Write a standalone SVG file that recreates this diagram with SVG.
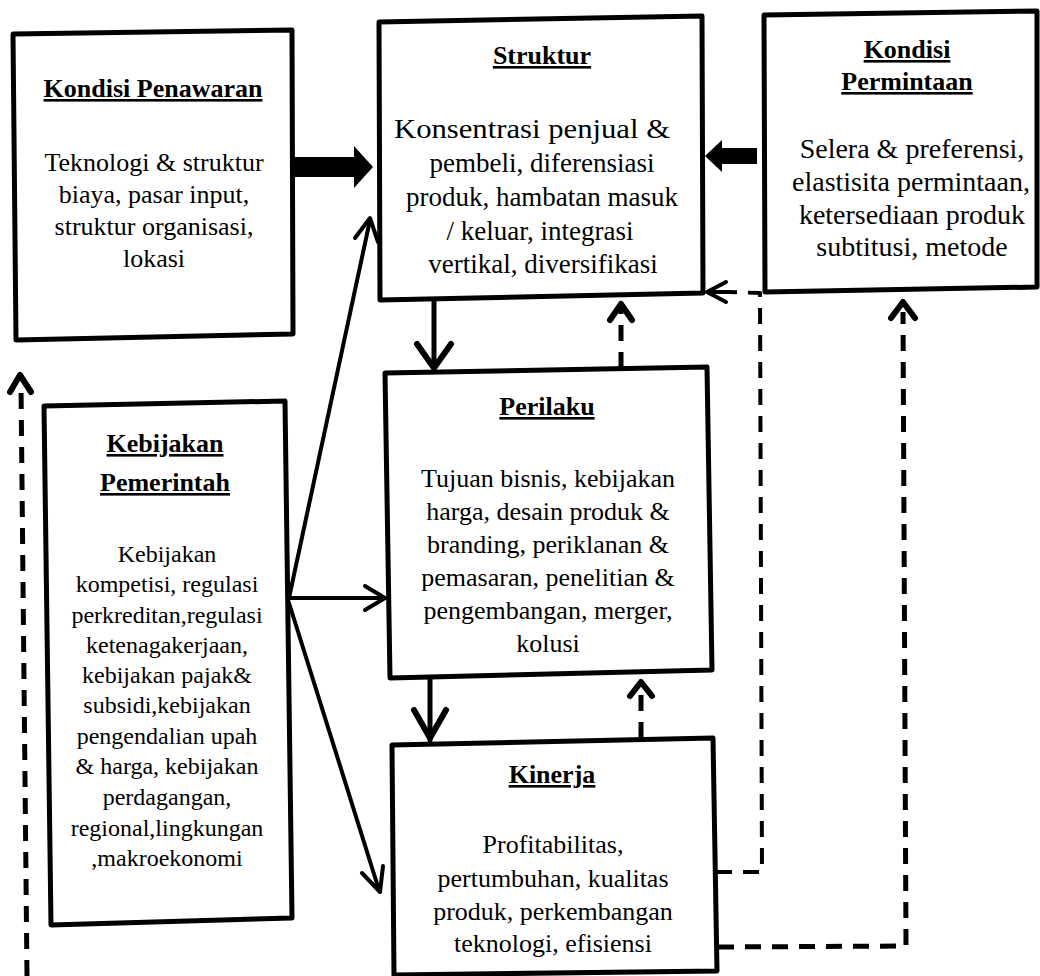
<svg xmlns="http://www.w3.org/2000/svg" width="1040" height="976" viewBox="0 0 1040 976">
<style>
.box{fill:#fff;stroke:#000;stroke-width:5;stroke-linejoin:round}
.t{font-family:"Liberation Serif","Times New Roman",serif;font-weight:bold;font-size:26px;text-anchor:middle;text-decoration:underline;fill:#000}
.b{font-family:"Liberation Serif","Times New Roman",serif;font-size:26px;text-anchor:middle;fill:#000}
.s{font-size:24px}
.m{font-size:27px}
.l{font-size:28px}
.ln{fill:none;stroke:#000;stroke-width:4;stroke-linecap:round;stroke-linejoin:round}
.thk{stroke-width:5}
.ds{fill:none;stroke:#000;stroke-width:5;stroke-dasharray:16 11;stroke-linejoin:round}
.dsn{fill:none;stroke:#000;stroke-width:4;stroke-dasharray:16 11;stroke-linejoin:round}
.hd{fill:none;stroke:#000;stroke-width:4;stroke-linecap:round;stroke-linejoin:round}
.hdk{fill:none;stroke:#000;stroke-width:6;stroke-linecap:round;stroke-linejoin:round}
</style>
<rect width="1040" height="976" fill="#fff"/>

<g id="connectors">
  <!-- thick block arrows -->
  <polygon points="292,157 354,157 354,146 373,167 354,188 354,177 292,177" fill="#000"/>
  <polygon points="757,148 722,148 722,140 705,156 722,172 722,164 757,164" fill="#000"/>
  <!-- Kebijakan to Struktur -->
  <line class="ln" x1="289" y1="598" x2="370" y2="220"/>
  <polyline class="hd" points="355,238 370,218 378,242"/>
  <!-- Kebijakan to Perilaku -->
  <line class="ln" x1="289" y1="598" x2="384" y2="598"/>
  <polyline class="hd" points="365,586 385,598 365,610"/>
  <!-- Kebijakan to Kinerja -->
  <line class="ln" x1="289" y1="603" x2="379" y2="890"/>
  <polyline class="hd" points="362,873 380,892 383,866"/>
  <!-- Struktur to Perilaku -->
  <line class="ln thk" x1="434" y1="300" x2="434" y2="368"/>
  <polyline class="hdk" points="417,344 434,368 451,344"/>
  <!-- Perilaku to Struktur dashed -->
  <line class="ds" x1="621" y1="368" x2="621" y2="306"/>
  <polyline class="hdk" points="610,320 621,304 632,320"/>
  <!-- Perilaku to Kinerja -->
  <line class="ln thk" x1="430" y1="678" x2="430" y2="740"/>
  <polyline class="hdk" points="414,710 430,738 446,710"/>
  <!-- Kinerja to Perilaku dashed -->
  <line class="ds" x1="641" y1="738" x2="641" y2="684"/>
  <polyline class="hdk" points="630,696 641,682 652,696"/>
  <!-- Kinerja to Struktur dashed loop -->
  <polyline class="dsn" points="716,872 762,872 760,293 728,292"/>
  <line class="ln" x1="728" y1="292" x2="708" y2="292"/>
  <polyline class="hd" points="726,282 707,292 726,302"/>
  <!-- Kinerja to Kondisi Permintaan dashed loop -->
  <polyline class="ds" points="718,947 906,946 903,312"/>
  <polyline class="hdk" points="891,318 903,302 915,318"/>
  <!-- left dashed feedback -->
  <line class="ds" x1="27" y1="976" x2="21" y2="384"/>
  <polyline class="hdk" points="10,392 20,375 31,392"/>
</g>

<g id="kondisi-penawaran">
  <polygon class="box" points="13,34 292,30 293,334 16,340"/>
  <text class="t" x="153" y="97">Kondisi Penawaran</text>
  <text class="b" x="154" y="171">Teknologi &amp; struktur</text>
  <text class="b" x="154" y="203">biaya, pasar input,</text>
  <text class="b" x="154" y="235">struktur organisasi,</text>
  <text class="b" x="154" y="267">lokasi</text>
</g>

<g id="struktur">
  <polygon class="box" points="379,22 702,16 703,293 380,300"/>
  <text class="t" x="542" y="64">Struktur</text>
  <text class="b m" x="532" y="138" textLength="276" lengthAdjust="spacingAndGlyphs">Konsentrasi penjual &amp;</text>
  <text class="b m" x="542" y="172">pembeli, diferensiasi</text>
  <text class="b m" x="542" y="206">produk, hambatan masuk</text>
  <text class="b m" x="540" y="240">/ keluar, integrasi</text>
  <text class="b m" x="543" y="273">vertikal, diversifikasi</text>
</g>

<g id="kondisi-permintaan">
  <polygon class="box" points="764,15 1037,11 1037,287 765,292"/>
  <text class="t" x="907" y="58">Kondisi</text>
  <text class="t" x="907" y="90">Permintaan</text>
  <text class="b l" x="912" y="158">Selera &amp; preferensi,</text>
  <text class="b l" x="911" y="191">elastisita permintaan,</text>
  <text class="b l" x="912" y="224">ketersediaan produk</text>
  <text class="b l" x="912" y="256">subtitusi, metode</text>
</g>

<g id="kebijakan-pemerintah">
  <polygon class="box" points="44,406 285,401 292,918 51,925"/>
  <text class="t" x="165" y="452">Kebijakan</text>
  <text class="t" x="165" y="491">Pemerintah</text>
  <text class="b s" x="167" y="562">Kebijakan</text>
  <text class="b s" x="167" y="592">kompetisi, regulasi</text>
  <text class="b s" x="167" y="623">perkreditan,regulasi</text>
  <text class="b s" x="167" y="653">ketenagakerjaan,</text>
  <text class="b s" x="167" y="683">kebijakan pajak&amp;</text>
  <text class="b s" x="167" y="713">subsidi,kebijakan</text>
  <text class="b s" x="167" y="744">pengendalian upah</text>
  <text class="b s" x="167" y="774">&amp; harga, kebijakan</text>
  <text class="b s" x="167" y="805">perdagangan,</text>
  <text class="b s" x="167" y="836">regional,lingkungan</text>
  <text class="b s" x="167" y="866">,makroekonomi</text>
</g>

<g id="perilaku">
  <polygon class="box" points="385,373 707,367 712,670 390,678"/>
  <text class="t" x="547" y="415">Perilaku</text>
  <text class="b" x="548" y="487">Tujuan bisnis, kebijakan</text>
  <text class="b" x="548" y="520">harga, desain produk &amp;</text>
  <text class="b" x="548" y="553">branding, periklanan &amp;</text>
  <text class="b" x="548" y="586">pemasaran, penelitian &amp;</text>
  <text class="b" x="548" y="619">pengembangan, merger,</text>
  <text class="b" x="548" y="652">kolusi</text>
</g>

<g id="kinerja">
  <polygon class="box" points="392,745 713,738 717,971 394,975"/>
  <text class="t" x="552" y="783">Kinerja</text>
  <text class="b" x="553" y="853">Profitabilitas,</text>
  <text class="b" x="553" y="887">pertumbuhan, kualitas</text>
  <text class="b" x="553" y="920">produk, perkembangan</text>
  <text class="b" x="553" y="952">teknologi, efisiensi</text>
</g>
</svg>
